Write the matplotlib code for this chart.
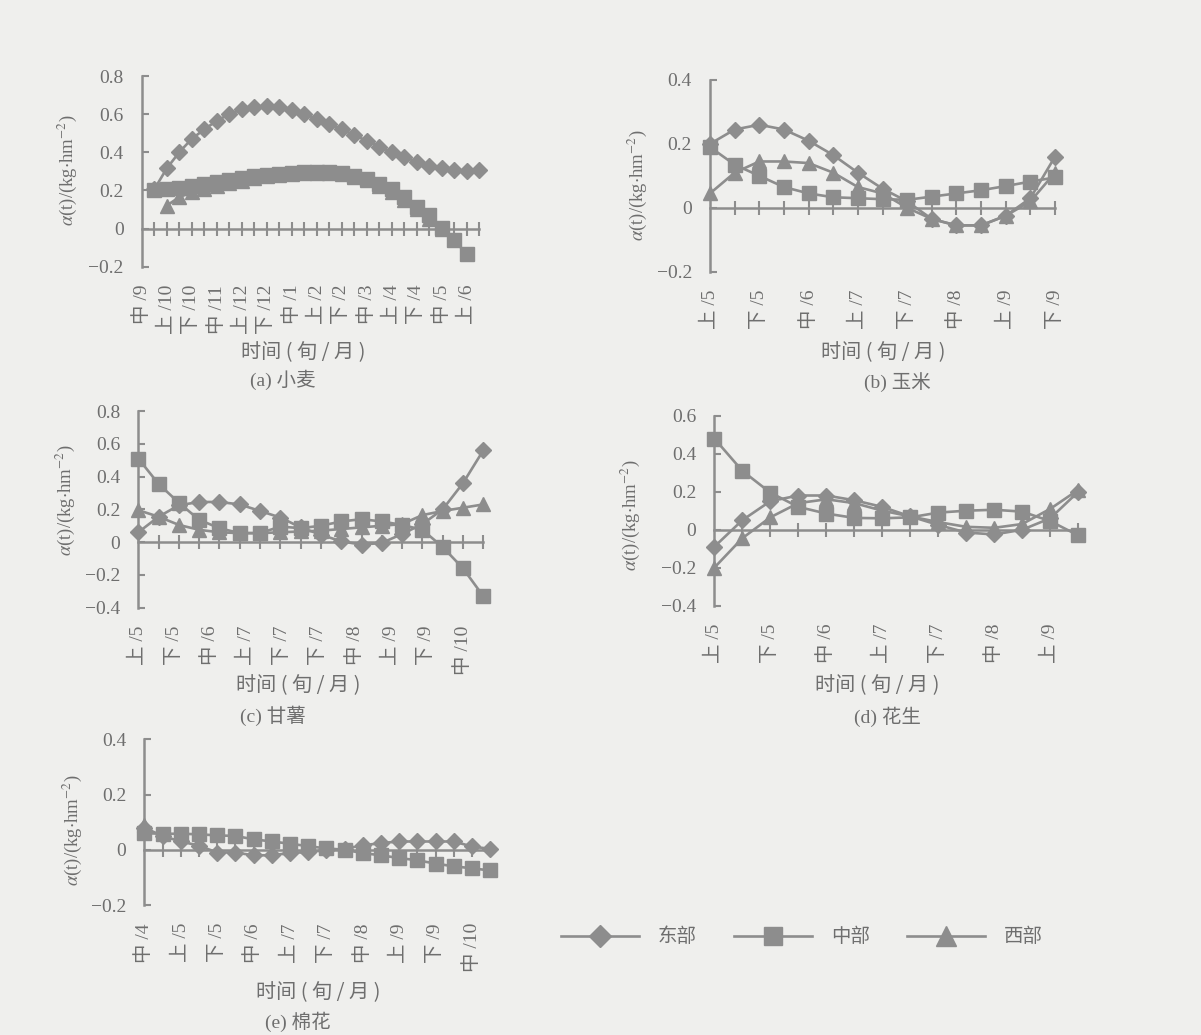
import numpy as np
import matplotlib
matplotlib.use("Agg")
import matplotlib.pyplot as plt
from matplotlib.lines import Line2D

nan = np.nan

# ---- data ----
# (a) 小麦 : categories 0..27, label every 2nd
wheat_labels = ['中 /9', '上 /10', '下 /10', '中 /11', '上 /12', '下 /12', '中 /1',
                '上 /2', '下 /2', '中 /3', '上 /4', '下 /4', '中 /5', '上 /6']
wheat_east = [nan, 0.205, 0.315, 0.40, 0.47, 0.52, 0.565, 0.60, 0.625, 0.638, 0.642,
              0.638, 0.62, 0.60, 0.575, 0.55, 0.52, 0.49, 0.46, 0.43, 0.40,
              0.375, 0.35, 0.328, 0.315, 0.305, 0.302, 0.305]
wheat_mid = [nan, 0.20, 0.21, 0.215, 0.225, 0.235, 0.245, 0.255, 0.265, 0.273, 0.28,
             0.287, 0.293, 0.297, 0.298, 0.296, 0.29, 0.275, 0.26, 0.235, 0.205,
             0.165, 0.115, 0.07, 0.005, -0.06, -0.135, nan]
wheat_west = [nan, nan, 0.12, 0.165, 0.19, 0.21, 0.225, 0.24, 0.252, 0.264, 0.274,
              0.282, 0.288, 0.292, 0.293, 0.29, 0.284, 0.272, 0.256, 0.225, 0.19,
              0.15, 0.10, 0.05, 0.0, nan, nan, nan]

# (b) 玉米
corn_labels = ['上 /5', '下 /5', '中 /6', '上 /7', '下 /7', '中 /8', '上 /9', '下 /9']
corn_east = [0.20, 0.245, 0.26, 0.245, 0.21, 0.165, 0.11, 0.06, 0.02, -0.035,
             -0.055, -0.055, -0.025, 0.03, 0.16]
corn_mid = [0.19, 0.135, 0.10, 0.065, 0.045, 0.033, 0.03, 0.027, 0.025, 0.035,
            0.045, 0.055, 0.068, 0.082, 0.095]
corn_west = [0.045, 0.11, 0.145, 0.145, 0.14, 0.11, 0.065, 0.045, 0.0, -0.035,
             -0.055, -0.055, -0.025, 0.02, 0.11]

# (c) 甘薯
potato_labels = ['上 /5', '下 /5', '中 /6', '上 /7', '下 /7', '下 /7', '中 /8',
                 '上 /9', '下 /9', '中 /10']
potato_east = [0.06, 0.155, 0.225, 0.245, 0.245, 0.23, 0.19, 0.15, 0.09, 0.045,
               0.005, -0.015, -0.005, 0.05, 0.11, 0.20, 0.36, 0.56]
potato_mid = [0.51, 0.355, 0.24, 0.136, 0.085, 0.055, 0.055, 0.095, 0.085, 0.10,
              0.126, 0.14, 0.126, 0.105, 0.075, -0.03, -0.16, -0.33]
potato_west = [0.195, 0.155, 0.105, 0.075, 0.06, 0.055, 0.055, 0.06, 0.065, 0.07,
               0.08, 0.09, 0.10, 0.11, 0.165, 0.19, 0.21, 0.23]

# (d) 花生
peanut_labels = ['上 /5', '下 /5', '中 /6', '上 /7', '下 /7', '中 /8', '上 /9']
peanut_east = [-0.09, 0.05, 0.15, 0.18, 0.18, 0.155, 0.12, 0.07, 0.025, -0.015,
               -0.025, 0.0, 0.06, 0.20]
peanut_mid = [0.48, 0.31, 0.195, 0.12, 0.085, 0.062, 0.06, 0.065, 0.09, 0.10,
              0.105, 0.095, 0.045, -0.03]
peanut_west = [-0.20, -0.045, 0.065, 0.14, 0.16, 0.14, 0.10, 0.07, 0.04, 0.015,
               0.01, 0.03, 0.11, 0.21]

# (e) 棉花
cotton_labels = ['中 /4', '上 /5', '下 /5', '中 /6', '上 /7', '下 /7', '中 /8',
                 '上 /9', '下 /9', '中 /10']
cotton_east = [0.08, 0.05, 0.03, 0.015, -0.01, -0.01, -0.02, -0.02, -0.012, -0.008,
               -0.002, 0.004, 0.016, 0.024, 0.03, 0.03, 0.03, 0.03, 0.012, 0.003]
cotton_mid = [0.06, 0.058, 0.058, 0.056, 0.052, 0.05, 0.038, 0.03, 0.022, 0.013,
              0.005, 0.0, -0.012, -0.02, -0.03, -0.038, -0.05, -0.06, -0.067, -0.075]
cotton_west = [0.09] + [nan] * 19

series_names = ['东部', '中部', '西部']

# ---- style ----
BG = '#efefed'
GRAY = '#8d8d8d'
TXT = '#6e6e6e'
plt.rcParams['mathtext.fontset'] = 'stix'
SERIF = ['Liberation Serif', 'Noto Sans CJK SC', 'DejaVu Serif']
CJK = ['Noto Sans CJK SC', 'DejaVu Sans']

W_PX, H_PX = 1201, 1035
fig = plt.figure(figsize=(W_PX / 100, H_PX / 100), dpi=100, facecolor=BG)


def rect(left, top, right, bottom):
    return [left / W_PX, 1 - bottom / H_PX, (right - left) / W_PX, (bottom - top) / H_PX]


def fig_text(x, y, s, **kw):
    fig.text(x / W_PX, 1 - y / H_PX, s, ha='center', va='center', color=TXT, **kw)


def panel(box, east, mid, west, labels, label_pos, ylim, ystep, xlab_xy, cap_xy, cap, ylab_xy):
    ax = fig.add_axes(rect(*box))
    ax.set_facecolor('none')
    n = len(east)
    x = np.arange(n)
    ax.plot(x, east, color=GRAY, lw=1.9, marker='D', ms=8, clip_on=False, zorder=3)
    ax.plot(x, mid, color=GRAY, lw=1.9, marker='s', ms=10.5, clip_on=False, zorder=4)
    ax.plot(x, west, color=GRAY, lw=1.9, marker='^', ms=10.5, clip_on=False, zorder=5)

    ax.set_xlim(0, n - 1)
    ax.set_ylim(*ylim)
    yt = np.arange(ylim[0], ylim[1] + ystep / 2, ystep)
    ax.set_yticks(yt)
    ax.set_yticklabels(['0' if abs(v) < 1e-9 else f'{v:.1f}'.replace('-', '\u2212') for v in yt],
                       family=SERIF, fontsize=14, color=TXT)
    ax.tick_params(axis='y', direction='in', length=5, width=1.5, color=GRAY, pad=13)

    for s in ['top', 'right']:
        ax.spines[s].set_visible(False)
    ax.spines['left'].set_color(GRAY)
    ax.spines['left'].set_linewidth(1.8)
    ax.spines['bottom'].set_position(('data', 0))
    ax.spines['bottom'].set_color(GRAY)
    ax.spines['bottom'].set_linewidth(1.8)
    ax.set_xticks(np.arange(1, n))
    ax.set_xticklabels([])
    ax.tick_params(axis='x', direction='inout', length=10, width=1.5, color=GRAY)

    sec = ax.secondary_xaxis(0.0)
    sec.spines['bottom'].set_visible(False)
    sec.set_xticks(label_pos)
    sec.set_xticklabels(labels, rotation=90, family=SERIF, fontsize=14, color=TXT)
    sec.tick_params(axis='x', length=0, pad=13)

    fig_text(*xlab_xy, '时间 ( 旬 / 月 )', family=CJK, fontsize=14.5)
    fig_text(*cap_xy, cap, family=SERIF, fontsize=14)
    fig_text(*ylab_xy, r'$\alpha$(t)/(kg$\cdot$hm$^{-2}$)', family=SERIF, fontsize=13.5,
             rotation=90)
    return ax


panel((141.7, 76, 479.3, 266.7), wheat_east, wheat_mid, wheat_west,
      wheat_labels, np.arange(0, 27, 2), (-0.2, 0.8), 0.2,
      (303, 353), (283, 380), '(a) 小麦', (67, 170))
panel((710, 80, 1055, 271.7), corn_east, corn_mid, corn_west,
      corn_labels, np.arange(0, 15, 2), (-0.2, 0.4), 0.2,
      (883, 353), (897, 382), '(b) 玉米', (637, 185))
panel((138.3, 411, 483.3, 607.7), potato_east, potato_mid, potato_west,
      potato_labels, np.linspace(0, 16, len(potato_labels)), (-0.4, 0.8), 0.2,
      (298, 686), (273, 716), '(c) 甘薯', (65, 500))
panel((714.3, 415.7, 1078.3, 605.7), peanut_east, peanut_mid, peanut_west,
      peanut_labels, np.arange(0, 13, 2), (-0.4, 0.6), 0.2,
      (877, 686), (887, 717), '(d) 花生', (630, 515))
panel((144.3, 739.3, 490.1, 905), cotton_east, cotton_mid, cotton_west,
      cotton_labels, np.arange(0, 19, 2), (-0.2, 0.4), 0.2,
      (318, 993), (298, 1022), '(e) 棉花', (72, 830))

handles = [Line2D([], [], color=GRAY, lw=1.9, marker=m, ms=ms)
           for m, ms in zip(['D', 's', '^'], [11, 13, 14])]
fig.legend(handles, series_names, loc='center', bbox_to_anchor=(802 / W_PX, 1 - 937 / H_PX),
           ncol=3, frameon=False, handlelength=4.0, handletextpad=1.0, columnspacing=1.9,
           numpoints=1, prop={'family': CJK, 'size': 14}, labelcolor=TXT)

fig.savefig('out.png', dpi=100, facecolor=BG)
